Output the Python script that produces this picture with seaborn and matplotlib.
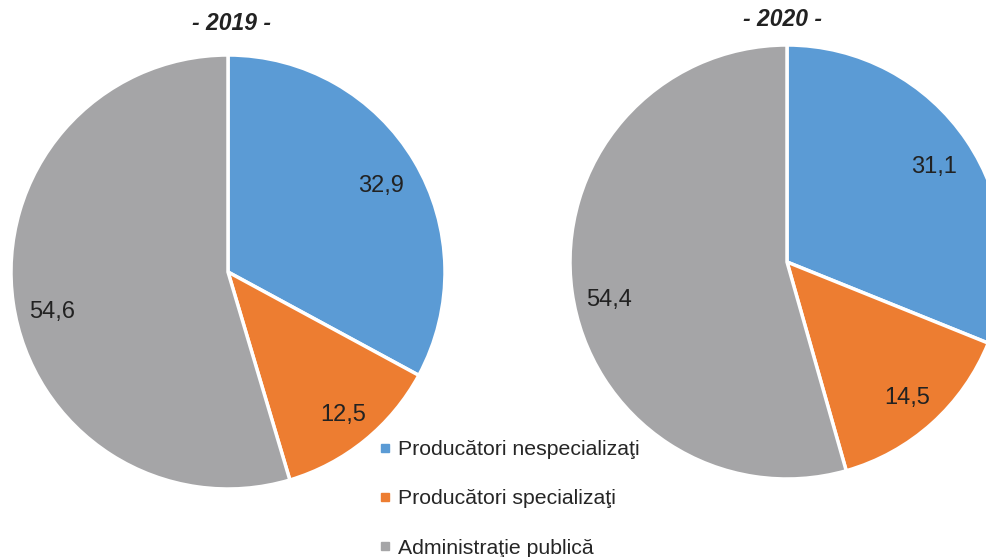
import matplotlib
matplotlib.use("Agg")
import matplotlib.pyplot as plt
import matplotlib.transforms as mtransforms
from matplotlib.lines import Line2D
import seaborn as sns

sns.set_theme(style="white")
plt.rcParams['font.family'] = ['Liberation Sans', 'DejaVu Sans']

categories = ['Producători nespecializaţi', 'Producători specializaţi', 'Administraţie publică']
values_2019 = [32.9, 12.5, 54.6]
values_2020 = [31.1, 14.5, 54.4]
years = ['2019', '2020']

colors = ['#5B9BD5', '#ED7D31', '#A5A5A7']

W, H = 987, 557
fig = plt.figure(figsize=(W / 100, H / 100), dpi=100)
fig.patch.set_facecolor('white')


def draw_pie(cx, cy, r, vals, nudges):
    ax = fig.add_axes([(cx - r) / W, (H - cy - r) / H, 2 * r / W, 2 * r / H])
    wedges, texts = ax.pie(vals, colors=colors, startangle=90, counterclock=False, radius=1,
                           labels=[f"{v:.1f}".replace('.', ',') for v in vals],
                           labeldistance=0.83,
                           textprops=dict(fontsize=17, color='#222222', ha='center', va='center'),
                           wedgeprops=dict(edgecolor='white', linewidth=2.5))
    # Excel-like "best fit" label placement, small pixel nudges
    for t, (dx, dy) in zip(texts, nudges):
        t.set_transform(t.get_transform() + mtransforms.ScaledTranslation(dx / 100, -dy / 100, fig.dpi_scale_trans))
    ax.set_xlim(-1, 1)
    ax.set_ylim(-1, 1)
    ax.set_aspect('equal')
    ax.axis('off')
    return ax


draw_pie(228, 272, 217, values_2019, [(-2, 6), (2, 3), (2, 14)])
draw_pie(787, 262, 217, values_2020, [(-2, 6), (0, 2), (0, 13)])

fig.text(232 / W, 1 - 24 / H, f"- {years[0]} -", fontsize=16.5, fontweight='bold',
         fontstyle='italic', ha='center', va='center', color='#222222')
fig.text(783 / W, 1 - 20 / H, f"- {years[1]} -", fontsize=16.5, fontweight='bold',
         fontstyle='italic', ha='center', va='center', color='#222222')

handles = [Line2D([0], [0], marker='s', linestyle='none', markersize=5.5,
                  markerfacecolor=c, markeredgecolor=c) for c in colors]
fig.legend(handles, categories, loc='upper left', bbox_to_anchor=(378 / W, 1 - 440 / H),
           frameon=False, fontsize=15.3, labelspacing=1.43, handletextpad=0.25,
           handlelength=0.7, borderaxespad=0, borderpad=0)

fig.savefig('out.png', dpi=100, facecolor='white')
